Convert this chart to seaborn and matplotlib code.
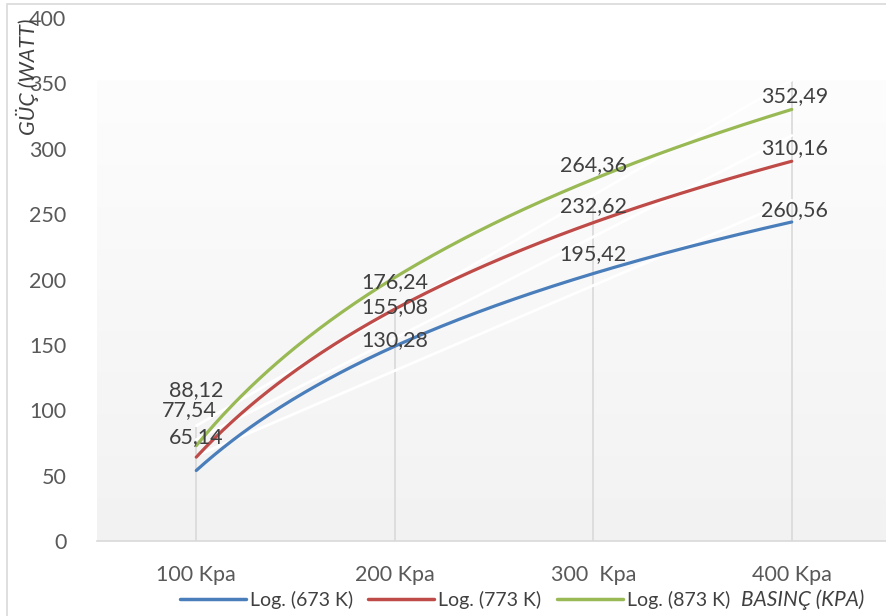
import numpy as np
import pandas as pd
import seaborn as sns
import matplotlib.pyplot as plt
from matplotlib.colors import LinearSegmentedColormap
from matplotlib.lines import Line2D
from matplotlib.patches import Rectangle

categories = ["100 Kpa", "200 Kpa", "300  Kpa", "400 Kpa"]
series_names = ["673 K", "773 K", "873 K"]
power_673 = [65.14, 130.28, 195.42, 260.56]
power_773 = [77.54, 155.08, 232.62, 310.16]
power_873 = [88.12, 176.24, 264.36, 352.49]
colors = ["#4A7EBB", "#BE4B48", "#98B954"]

series = [power_673, power_773, power_873]

sns.set_theme(style="white")
plt.rcParams['font.family'] = ['Lato', 'DejaVu Sans']

fig = plt.figure(figsize=(8.87, 6.16), dpi=100)
ax = fig.add_axes([97 / 887, 75 / 616, 794 / 887, 523 / 616])

idx = np.arange(len(categories))

# background gradient of the plot area
top = max(power_873)
cmap = LinearSegmentedColormap.from_list("bg", ["#f2f2f2", "#fdfdfd"])
ax.imshow(np.linspace(0, 1, 200)[:, None], extent=(-0.5, 3.5, 0, top),
          cmap=cmap, aspect="auto", origin="lower", zorder=0)

# drop lines
tops = np.max(np.array(series), axis=0)
ax.vlines(idx, 0, tops, color="#d9d9d9", lw=1.2, zorder=1)

# data lines (white) and log trendlines
xs = np.linspace(1, 4, 200)
for name, vals, col in zip(series_names, series, colors):
    df = pd.DataFrame({"x": idx, "y": vals})
    sns.lineplot(data=df, x="x", y="y", color="white", lw=2, ax=ax, zorder=2)
    a, b = np.polyfit(np.log(idx + 1), vals, 1)
    trend = pd.DataFrame({"x": xs - 1, "y": a * np.log(xs) + b})
    sns.lineplot(data=trend, x="x", y="y", color=col, lw=2.3, ax=ax, zorder=3)

# data labels
offsets = [[14.4, 23.4, 24.1, -7.6],
           [22.7, 23.9, 23.4, -9.6],
           [27.4, 21.8, 23.2, -12.5]]
for vals, offs in zip(series, offsets):
    for i, (v, o) in enumerate(zip(vals, offs)):
        dx = -0.035 if (i == 0 and v == power_773[0]) else 0.0
        ax.text(i + dx + (0.015 if i == 3 else 0), v + o,
                f"{v:.2f}".replace(".", ","), ha="center", va="center",
                fontsize=15.5, color="#404040", zorder=4)

ax.set_xlim(-0.5, 3.5)
ax.set_ylim(0, 400)
ax.set_yticks(np.arange(0, 401, 50))
ax.set_xticks(idx)
ax.set_xticklabels(categories)
ax.set_xlabel("")
ax.set_ylabel("")
ax.tick_params(axis="both", length=0, labelsize=15.5, colors="#595959")
ax.tick_params(axis="y", pad=22)
ax.tick_params(axis="x", pad=17)
for s in ["top", "right", "left"]:
    ax.spines[s].set_visible(False)
ax.spines["bottom"].set_color("#d9d9d9")
ax.spines["bottom"].set_linewidth(1.2)

fig.text(27 / 887, 1 - 77 / 616, "GÜÇ (WATT)", rotation=90, style="italic",
         ha="center", va="center", fontsize=15.5, color="#404040")

handles = [Line2D([0], [0], color=c, lw=2.5) for c in colors]
labels = [f"Log. ({n})" for n in series_names]
fig.legend(handles, labels, loc="center", bbox_to_anchor=(455 / 887, 1 - 600 / 616),
           ncol=3, frameon=False, handlelength=3.4, handletextpad=0.2,
           columnspacing=0.8, fontsize=14, labelcolor="#404040",
           borderpad=0.1)
fig.text(741 / 887, 1 - 600 / 616, "BASINÇ (KPA)", style="italic",
         ha="left", va="center", fontsize=15, color="#404040")

fig.patches.append(Rectangle((7 / 887, -0.01), 1, 1 - 4 / 616 + 0.01,
                             transform=fig.transFigure, fill=False,
                             ec="#d9d9d9", lw=1.2))

fig.savefig("out.png", dpi=100)
